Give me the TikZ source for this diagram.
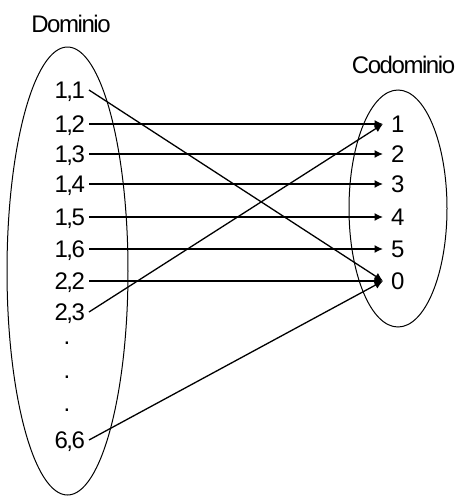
\documentclass[tikz,border=0pt]{standalone}
\usepackage{fontspec}
\setmainfont{Liberation Sans}[LetterSpace=-6]
\usepackage{tikz}
\usetikzlibrary{arrows.meta}

\begin{document}
\begin{tikzpicture}[x=1pt,y=-1pt,
                    every node/.style={font=\fontsize{24}{28}\selectfont},
                    dom/.style={anchor=east,inner sep=0pt,outer xsep=4pt,
                                text height=17.2pt,text depth=0pt},
                    cod/.style={anchor=west,inner sep=0pt,outer xsep=8pt,
                                text height=17.2pt,text depth=0pt},
                    ar/.style={-{Latex[length=8.5pt,width=8pt]},line width=1.3pt}]
  \useasboundingbox (0,0) rectangle (456,496);
  % the two sets
  \draw[line width=1pt] (67.5,271) ellipse [x radius=60.5pt,y radius=224pt];
  \draw[line width=1pt] (398,208.5) ellipse [x radius=49pt,y radius=118.5pt];
  \node[anchor=base] (tdom) at (71,32) {Dominio};
  \node[anchor=base] (tcod) at (403.5,73) {Codominio};
  % domain
  \node[dom] (a11) at (89,90) {1,1};
  \node[dom] (a12) at (89,124) {1,2};
  \node[dom] (a13) at (89,154) {1,3};
  \node[dom] (a14) at (89,184) {1,4};
  \node[dom] (a15) at (89,217) {1,5};
  \node[dom] (a16) at (89,249) {1,6};
  \node[dom] (a22) at (89,281) {2,2};
  \node[dom] (a23) at (89,312) {2,3};
  \node[anchor=base] (v1) at (67,344.5) {.};
  \node[anchor=base] (v2) at (67,378.5) {.};
  \node[anchor=base] (v3) at (67,411.5) {.};
  \node[dom] (a66) at (89,440) {6,6};
  % codomain
  \node[cod] (c1) at (383,124) {1};
  \node[cod] (c2) at (383,154) {2};
  \node[cod] (c3) at (383,184) {3};
  \node[cod] (c4) at (383,217) {4};
  \node[cod] (c5) at (383,249) {5};
  \node[cod] (c0) at (383,281) {0};
  % the mapping
  \draw[ar] (a11.east) -- (c0.west);
  \draw[ar] (a12.east) -- (c1.west);
  \draw[ar] (a13.east) -- (c2.west);
  \draw[ar] (a14.east) -- (c3.west);
  \draw[ar] (a15.east) -- (c4.west);
  \draw[ar] (a16.east) -- (c5.west);
  \draw[ar] (a22.east) -- (c0.west);
  \draw[ar] (a23.east) -- (c1.west);
  \draw[ar] (a66.east) -- (c0.west);
\end{tikzpicture}
\end{document}
